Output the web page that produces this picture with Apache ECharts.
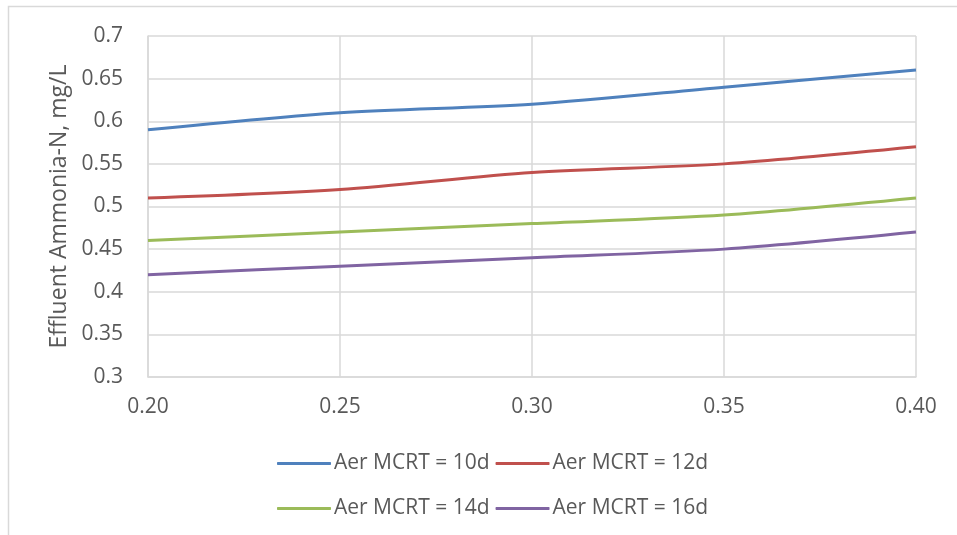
<!DOCTYPE html>
<html>
<head>
<meta charset="utf-8">
<script src="https://cdn.jsdelivr.net/npm/echarts@6/dist/echarts.min.js"></script>
<style>
  html, body { margin: 0; padding: 0; background: #fff; }
  #chart { width: 957px; height: 535px; }
</style>
</head>
<body>
<div id="chart"></div>
<script>
// X values (aerobic fraction) and effluent ammonia per MCRT case
const xValues = [0.20, 0.25, 0.30, 0.35, 0.40];
const mcrt10 = [0.59, 0.61, 0.62, 0.64, 0.66];
const mcrt12 = [0.51, 0.52, 0.54, 0.55, 0.57];
const mcrt14 = [0.46, 0.47, 0.48, 0.49, 0.51];
const mcrt16 = [0.42, 0.43, 0.44, 0.45, 0.47];
const seriesNames = ['Aer MCRT = 10d', 'Aer MCRT = 12d', 'Aer MCRT = 14d', 'Aer MCRT = 16d'];
const colors = ['#4F81BD', '#C0504D', '#9BBB59', '#8064A2'];
const yAxisTitle = 'Effluent Ammonia-N, mg/L';

const FONT = 'Open Sans';
const FS = 21;
const TEXT = '#595959';
const GRID = '#D9D9D9';

function pairs(ys) { return xValues.map((x, i) => [x, ys[i]]); }

const allSeries = [mcrt10, mcrt12, mcrt14, mcrt16].map((ys, i) => ({
  name: seriesNames[i],
  type: 'line',
  data: pairs(ys),
  smooth: 0.3,
  symbol: 'none',
  lineStyle: { width: 3, color: colors[i] },
  itemStyle: { color: colors[i] }
}));

const legendText = { fontFamily: FONT, fontSize: FS, color: TEXT, padding: [0, 0, 0, -2] };

const legendRow = (names, top) => ({
  data: names,
  left: 272, top: top,
  itemWidth: 54, itemHeight: 3, itemGap: 6,
  icon: 'roundRect',
  textStyle: legendText
});

const chart = echarts.init(document.getElementById('chart'), null, { renderer: 'canvas' });
chart.setOption({
  animation: false,
  backgroundColor: '#fff',
  graphic: [{
    type: 'rect',
    shape: { x: 8.5, y: 6.5, width: 1000, height: 1000 },
    style: { fill: 'none', stroke: '#D9D9D9', lineWidth: 1.5 },
    silent: true
  }],
  grid: { left: 148, top: 36, width: 768, height: 341, containLabel: false },
  legend: [
    legendRow(seriesNames.slice(0, 2), 448),
    legendRow(seriesNames.slice(2, 4), 493)
  ],
  xAxis: {
    type: 'value',
    min: 0.20, max: 0.40, interval: 0.05,
    axisLine: { show: true, lineStyle: { color: GRID, width: 1.5 } },
    axisTick: { show: false },
    splitLine: { show: true, lineStyle: { color: GRID, width: 1.5 } },
    axisLabel: {
      margin: 20,
      fontFamily: FONT, fontSize: FS, color: TEXT,
      formatter: v => v.toFixed(2)
    }
  },
  yAxis: {
    type: 'value',
    min: 0.3, max: 0.7, interval: 0.05,
    name: yAxisTitle,
    nameLocation: 'middle',
    nameGap: 76,
    nameRotate: 90,
    nameTextStyle: { fontFamily: FONT, fontSize: 23, color: TEXT },
    axisLine: { show: true, lineStyle: { color: GRID, width: 1.5 } },
    axisTick: { show: false },
    splitLine: { show: true, lineStyle: { color: GRID, width: 1.5 } },
    axisLabel: {
      margin: 25,
      fontFamily: FONT, fontSize: FS, color: TEXT,
      formatter: v => String(Math.round(v * 100) / 100)
    }
  },
  series: allSeries
});
</script>
</body>
</html>
